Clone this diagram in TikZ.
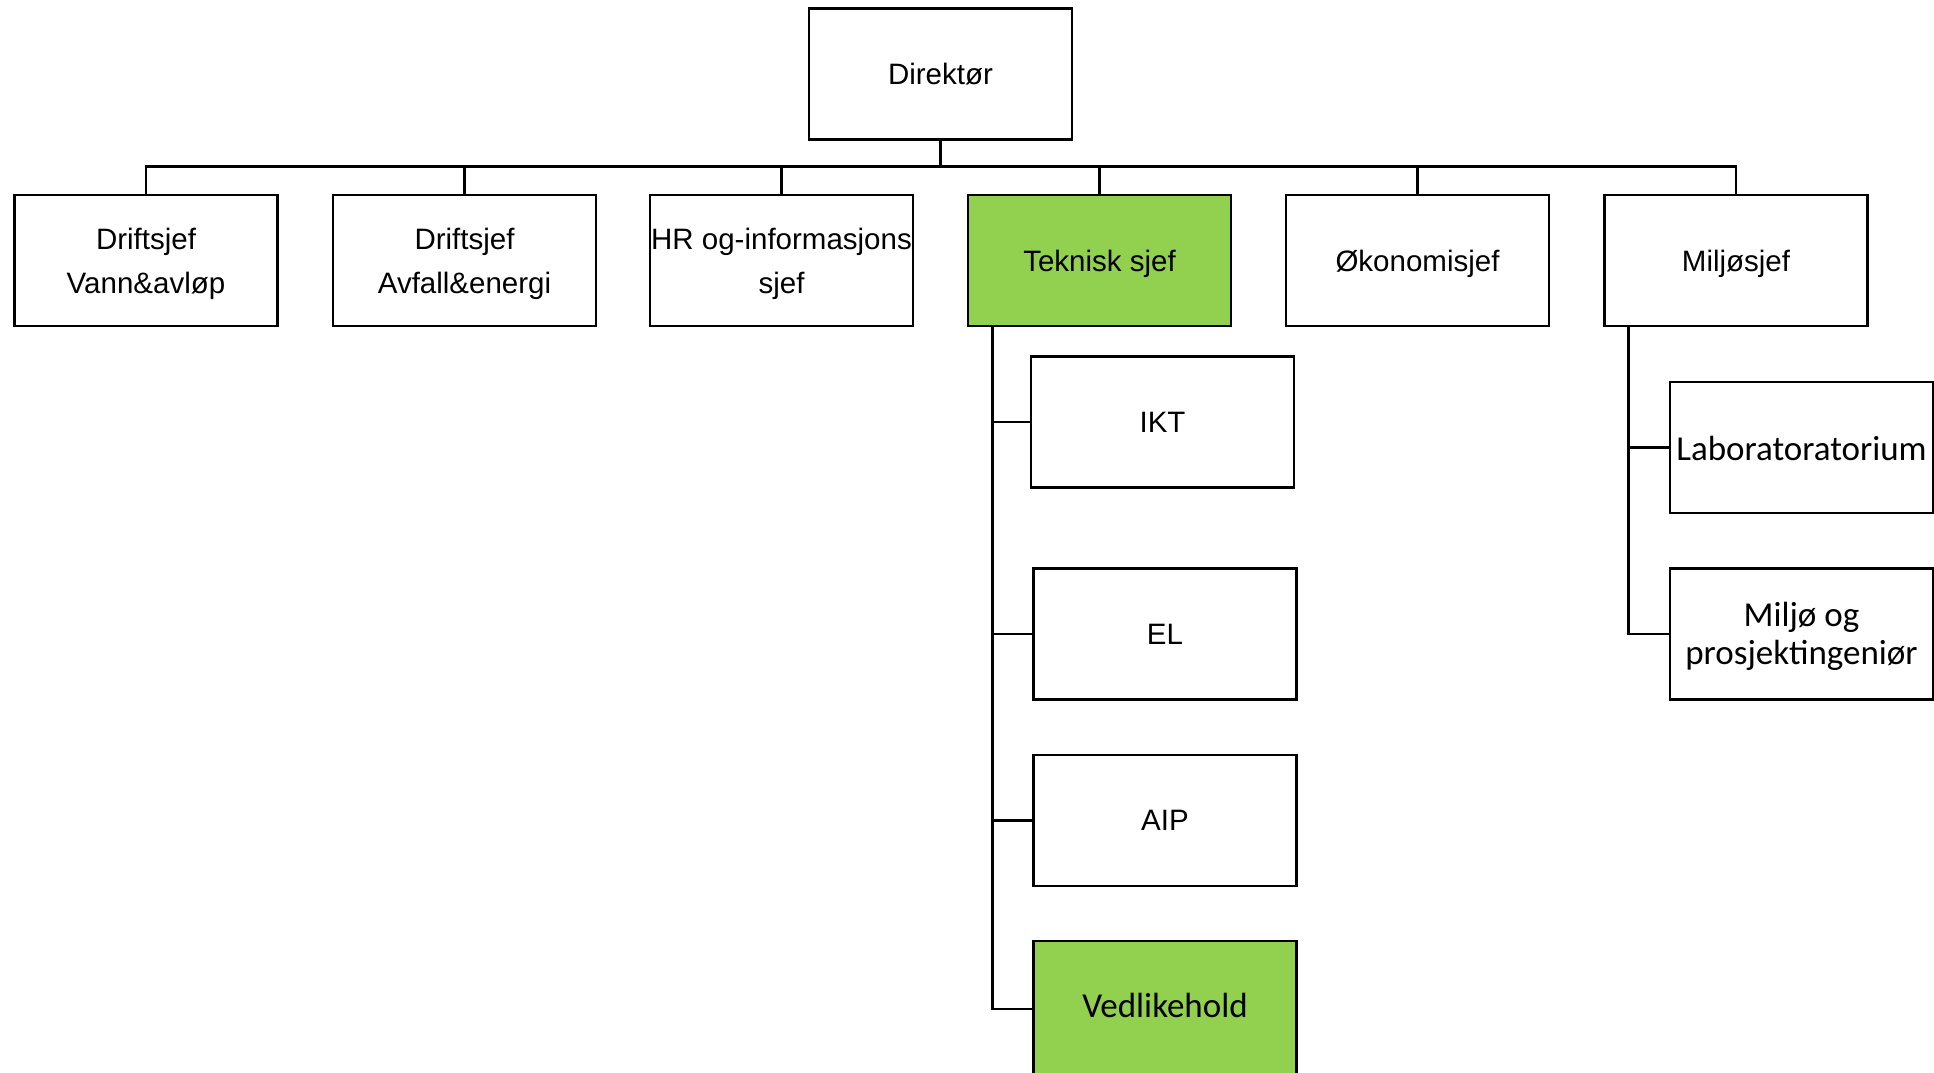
\documentclass[tikz,border=0pt]{standalone}
\usepackage{fontspec}
\setmainfont{Liberation Sans}
\newfontfamily\calfont{Carlito}
\definecolor{boxgreen}{HTML}{92D050}
\begin{document}
\begin{tikzpicture}[x=1pt,y=-1pt,
  box/.style={draw=black,line width=2.6pt,fill=white,minimum width=263pt,minimum height=131pt,inner sep=0pt},
  atxt/.style={align=center,inner sep=0pt,yshift=-3pt,font=\fontsize{29.5}{44}\selectfont},
  ctxt/.style={align=center,inner sep=0pt,yshift=-2pt,font=\calfont\fontsize{35}{38}\selectfont},
  green/.style={fill=boxgreen},
  conn/.style={line width=2.6pt,line cap=rect}]
\useasboundingbox (0,0) rectangle (1934,1072);
\fill[white] (0,0) rectangle (1934,1072);
% top
\node[box,label={[atxt,yshift=3pt]center:Direktør}] (dir) at (940.5,74) {};
% row
\node[box,label={[atxt]center:{Driftsjef\\Vann\&avløp}}] (c1) at (146,260.5) {};
\node[box,label={[atxt]center:{Driftsjef\\Avfall\&energi}}] (c2) at (464.5,260.5) {};
\node[box,label={[atxt]center:{HR og-informasjons\\sjef}}] (c3) at (781.5,260.5) {};
\node[box,green,label={[atxt]center:Teknisk sjef}] (c4) at (1099.5,260.5) {};
\node[box,label={[atxt]center:Økonomisjef}] (c5) at (1417.5,260.5) {};
\node[box,label={[atxt]center:Miljøsjef}] (c6) at (1736,260.5) {};
% teknisk children
\node[box,label={[atxt,yshift=3pt]center:IKT}] (ikt) at (1162.5,422) {};
\node[box,label={[atxt,yshift=3pt]center:EL}] (el) at (1165,634) {};
\node[box,label={[atxt,yshift=3pt]center:AIP}] (aip) at (1165,820.5) {};
\node[box,green,minimum height=136pt,label={[ctxt,yshift=5.5pt]center:Vedlikehold}] (ved) at (1165,1009) {};
% miljo children
\node[box,label={[ctxt,yshift=1pt]center:Laboratoratorium}] (lab) at (1801.5,447.5) {};
\node[box,label={[ctxt]center:{Miljø og\\prosjektingeniør}}] (mil) at (1801.5,634) {};
% connectors
\coordinate (bus) at (940.5,166.5);
\draw[line width=3.6pt] (dir.south) -- (bus);
\foreach \c in {c1,c2,c3,c4,c5,c6}{
  \draw[conn] (\c.north) |- (bus);
}
\coordinate (tk) at ([xshift=26pt]c4.south west);
\foreach \c in {ikt,el,aip,ved}{
  \draw[conn] (tk) |- (\c.west);
}
\coordinate (mk) at ([xshift=25.5pt]c6.south west);
\foreach \c in {lab,mil}{
  \draw[conn] (mk) |- (\c.west);
}
\end{tikzpicture}
\end{document}
